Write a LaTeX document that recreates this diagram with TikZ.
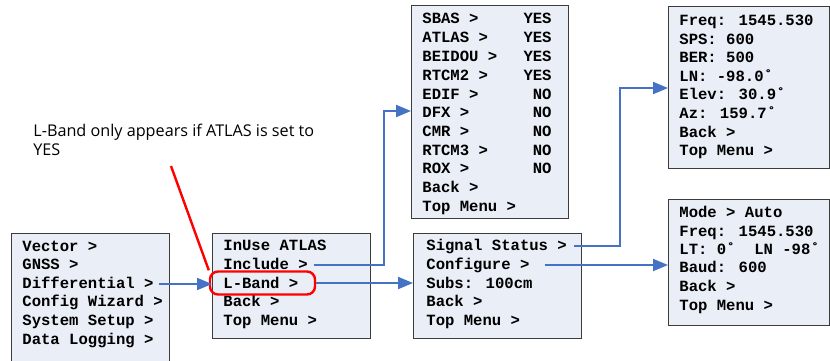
\documentclass[tikz,border=0pt]{standalone}
\usepackage{fontspec}
\setmainfont{Open Sans}
\newfontfamily\menufont{Liberation Mono}
\usetikzlibrary{arrows.meta,positioning}
\definecolor{menufill}{RGB}{233,238,247}
\definecolor{menuedge}{RGB}{60,60,60}
\definecolor{flowblue}{RGB}{68,114,196}
\tikzset{
    every node/.style={font=\menufont\bfseries\fontsize{7.8}{9.35}\selectfont},
    menu box/.style={draw=menuedge,line width=0.5pt,fill=menufill,anchor=north west,inner sep=0pt},
    menu item/.style={anchor=west,inner sep=0pt,text height=4.5pt,text depth=0pt},
    menu value/.style={menu item,anchor=east},
    flow/.style={-{Triangle[length=7.5pt,width=6pt]},draw=flowblue,line width=1pt},
    mark box/.style={draw=red,line width=1.2pt,rounded corners=4pt,minimum width=52.5pt,minimum height=11.5pt,inner sep=0pt},
    note/.style={font=\rmfamily\fontsize{8.1}{9.25}\selectfont,align=left,anchor=north west,inner sep=0pt}
}

\begin{document}
\begin{tikzpicture}[x=0.5pt,y=-0.5pt]
    \useasboundingbox (0,0) rectangle (830,360);
    \clip (0,0) rectangle (830,360);

    % menu boxes
    \node[menu box,minimum width=79pt,minimum height=67pt] (main) at (11,233) {};
    \node[menu box,minimum width=79pt,minimum height=52.5pt] (diff) at (212,233) {};
    \node[menu box,minimum width=84pt,minimum height=52.5pt] (lband) at (413,233) {};
    \node[menu box,minimum width=78.5pt,minimum height=106.5pt] (incl) at (411,5) {};
    \node[menu box,minimum width=80.5pt,minimum height=81pt] (status) at (668,6) {};
    \node[menu box,minimum width=80.5pt,minimum height=63pt] (config) at (668,199) {};

    % main menu
    \node[menu item] (m1) at (22,247) {Vector >};
    \node[menu item] (m2) at (22,265) {GNSS >};
    \node[menu item] (m3) at (22,284) {Differential >};
    \node[menu item] (m4) at (22,302) {Config Wizard >};
    \node[menu item] (m5) at (22,321) {System Setup >};
    \node[menu item] (m6) at (22,340) {Data Logging >};

    % differential menu
    \node[menu item] (d1) at (223,246) {InUse ATLAS};
    \node[menu item] (d2) at (223,265) {Include >};
    \node[menu item] (d3) at (223,284) {L-Band >};
    \node[menu item] (d4) at (223,302) {Back >};
    \node[menu item] (d5) at (223,321) {Top Menu >};

    % l-band menu
    \node[menu item] (l1) at (426,246) {Signal Status >};
    \node[menu item] (l2) at (426,265) {Configure >};
    \node[menu item] (l3) at (426,284) {Subs: 100cm};
    \node[menu item] (l4) at (426,302) {Back >};
    \node[menu item] (l5) at (426,321) {Top Menu >};

    % include menu
    \node[menu item] (i1) at (422,19) {SBAS >};
    \node[menu value] (v1) at (552,19) {YES};
    \node[menu item] (i2) at (422,38) {ATLAS >};
    \node[menu value] (v2) at (552,38) {YES};
    \node[menu item] (i3) at (422,57) {BEIDOU >};
    \node[menu value] (v3) at (552,57) {YES};
    \node[menu item] (i4) at (422,76) {RTCM2 >};
    \node[menu value] (v4) at (552,76) {YES};
    \node[menu item] (i5) at (422,95) {EDIF >};
    \node[menu value] (v5) at (552,95) {NO};
    \node[menu item] (i6) at (422,113) {DFX >};
    \node[menu value] (v6) at (552,113) {NO};
    \node[menu item] (i7) at (422,132) {CMR >};
    \node[menu value] (v7) at (552,132) {NO};
    \node[menu item] (i8) at (422,151) {RTCM3 >};
    \node[menu value] (v8) at (552,151) {NO};
    \node[menu item] (i9) at (422,169) {ROX >};
    \node[menu value] (v9) at (552,169) {NO};
    \node[menu item] (i10) at (422,188) {Back >};
    \node[menu item] (i11) at (422,207) {Top Menu >};

    % signal status menu
    \node[menu item] (s1) at (679,21) {Freq: 1545.530};
    \node[menu item] (s2) at (679,40) {SPS: 600};
    \node[menu item] (s3) at (679,58) {BER: 500};
    \node[menu item] (s4) at (679,77) {LN: -98.0˚};
    \node[menu item] (s5) at (679,95) {Elev: 30.9˚};
    \node[menu item] (s6) at (679,114) {Az: 159.7˚};
    \node[menu item] (s7) at (679,133) {Back >};
    \node[menu item] (s8) at (679,151) {Top Menu >};

    % configure menu
    \node[menu item] (c1) at (679,213) {Mode > Auto};
    \node[menu item] (c2) at (679,232) {Freq: 1545.530};
    \node[menu item] (c3) at (679,250) {LT: 0˚~~LN -98˚};
    \node[menu item] (c4) at (679,268) {Baud: 600};
    \node[menu item] (c5) at (679,287) {Back >};
    \node[menu item] (c6) at (679,306) {Top Menu >};

    % note on l-band
    \node[note] (note) at (33,124) {L-Band only appears if ATLAS is set to\\YES};
    \node[mark box] (hl) at (262.5,283) {};
    \coordinate (pointer) at (171,166);
    \draw[red,line width=1.2pt] (pointer) -- (hl.north west);

    % links
    \coordinate (ibend) at (384,111);
    \coordinate (sbend) at (620,88);
    \draw[flow] ([xshift=2.5pt]m3.east) -- (m3.east -| diff.west);
    \draw[flow] (hl.east) -- (hl.east -| lband.west);
    \draw[flow] ([xshift=3pt]d2.east) -| (ibend) -- (ibend -| incl.west);
    \draw[flow] ([xshift=3.5pt]l1.east) -| (sbend) -- (sbend -| status.west);
    \draw[flow] ([xshift=7.5pt]l2.east) -- (l2.east -| config.west);
\end{tikzpicture}
\end{document}
